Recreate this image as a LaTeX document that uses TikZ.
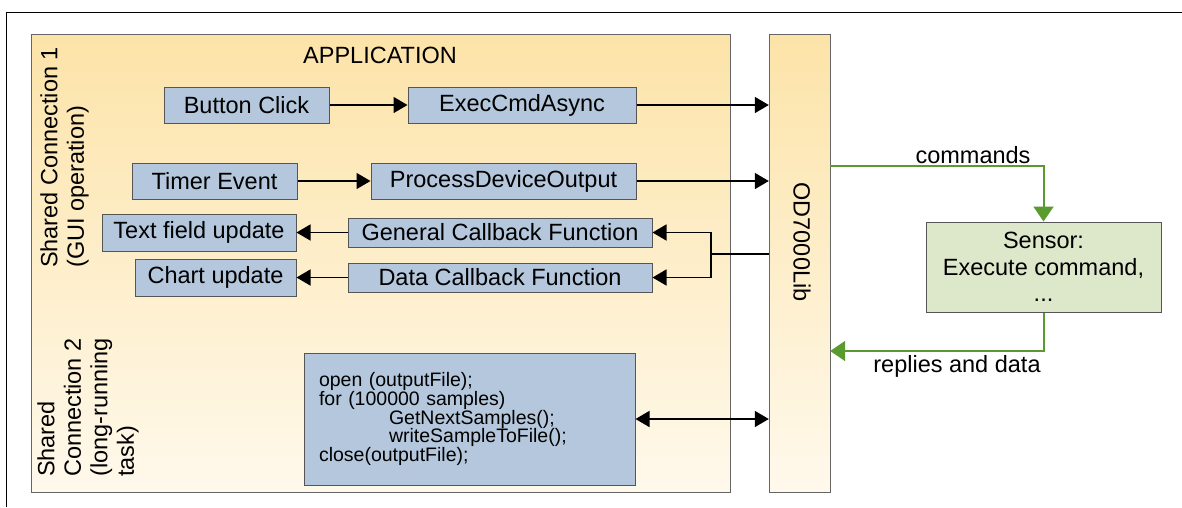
\documentclass[tikz,border=0pt]{standalone}
\usepackage{fontspec}
\setmainfont{Liberation Sans}
\usetikzlibrary{arrows.meta}
\definecolor{boxblue}{HTML}{B4C7DC}
\definecolor{boxgreen}{HTML}{DDE8CB}
\definecolor{greenline}{HTML}{5A9A2E}
\definecolor{apptop}{HTML}{FCE3A8}
\definecolor{appbot}{HTML}{FFF9EC}
\definecolor{boxedge}{HTML}{555555}
\tikzset{
  bigtext/.style={font=\fontsize{23.5}{27}\selectfont},
  bluebox/.style={draw=boxedge, line width=1pt, fill=boxblue, inner sep=0pt, bigtext},
  greenbox/.style={draw=boxedge, line width=1pt, fill=boxgreen, inner sep=0pt, bigtext, align=center},
  panel/.style={draw=black!60, line width=1pt, top color=apptop, bottom color=appbot},
  arr/.style={line width=1.5pt, -{Triangle[length=14pt,width=16pt]}},
  dbl/.style={line width=1.5pt, {Triangle[length=14pt,width=16pt]}-{Triangle[length=14pt,width=16pt]}},
  plain/.style={line width=1.5pt},
  garr/.style={line width=2pt, draw=greenline, -{Triangle[length=15pt,width=20pt]}},
  lbl/.style={bigtext, inner sep=0pt}
}
\begin{document}
\begin{tikzpicture}[x=1pt,y=-1pt]
\useasboundingbox (0,0) rectangle (1182,507);
% outer frame
\draw[line width=1pt] (6,507) -- (6,12) -- (1182,12);
% panels
\path[panel] (31,34) rectangle (730,492);
\path[panel] (769,34) rectangle (830,492);
\node[minimum width=61pt, minimum height=458pt, inner sep=0pt] (lib) at (799.5,263) {};
\node[lbl, rotate=-90] (libtxt) at (802,242) {OD7000Lib};
\node[lbl] (apptxt) at (380,55) {APPLICATION};
% side labels
\node[lbl, rotate=90, anchor=west, align=left, font=\fontsize{23.5}{26.5}\selectfont] (sc1) at (64.5,268) {Shared Connection 1\\(GUI operation)};
\node[lbl, rotate=90, anchor=west, align=left, font=\fontsize{23.5}{26.5}\selectfont] (sc2) at (88,477) {Shared\\Connection 2\\(long-running\\task)};
% blue boxes
\node[bluebox, minimum width=165pt, minimum height=36pt] (btn) at (246.5,105) {Button Click};
\node[bluebox, minimum width=228pt, minimum height=36pt] (exec) at (522,105) {ExecCmdAsync};
\node[bluebox, minimum width=165pt, minimum height=36pt] (timer) at (214.5,181) {Timer Event};
\node[bluebox, minimum width=265pt, minimum height=36pt] (proc) at (503.5,181) {ProcessDeviceOutput};
\node[bluebox, minimum width=194pt, minimum height=37pt] (textf) at (199,232.5) {Text field update};
\node[bluebox, minimum width=304pt, minimum height=29pt] (gen) at (500,232.5) {General Callback Function};
\node[bluebox, minimum width=161pt, minimum height=37pt] (chart) at (215.5,277.5) {Chart update};
\node[bluebox, minimum width=304pt, minimum height=29pt] (data) at (500,277.5) {Data Callback Function};
\node[draw=boxedge, line width=1pt, fill=boxblue, minimum width=331pt, minimum height=132pt, inner xsep=15pt, inner ysep=0pt, text width=301pt, align=left, font=\fontsize{19.5}{18.7}\selectfont] (code) at (469.5,419)
{open (outputFile);\\for (100000 samples)\\\hspace*{70pt}GetNextSamples();\\\hspace*{70pt}writeSampleToFile();\\close(outputFile);};
% sensor
\node[greenbox, minimum width=235pt, minimum height=90pt, font=\fontsize{23.5}{26.7}\selectfont] (sensor) at (1043.5,267) {Sensor:\\Execute command,\\...};
% connectors
\draw[arr] (btn) -- (exec);
\draw[arr] (exec.east) -- (exec.east -| lib.west);
\draw[arr] (timer) -- (proc);
\draw[arr] (proc.east) -- (proc.east -| lib.west);
\draw[arr] (gen) -- (textf);
\draw[arr] (data) -- (chart);
\coordinate (j) at (711,254);
\draw[plain] (lib.west |- j) -- (j);
\draw[arr] (j) |- (gen.east);
\draw[arr] (j) |- (data.east);
\draw[dbl] (code.east) -- (code.east -| lib.west);
% green connectors
\coordinate (cy) at (0,166);
\coordinate (ry) at (0,351);
\draw[garr] (lib.east |- cy) -| (sensor.north);
\draw[garr] (sensor.south) |- (lib.east |- ry);
\node[lbl] (cmdlbl) at (973,155) {commands};
\node[lbl] (replbl) at (957,366) {replies and data};
\end{tikzpicture}
\end{document}
